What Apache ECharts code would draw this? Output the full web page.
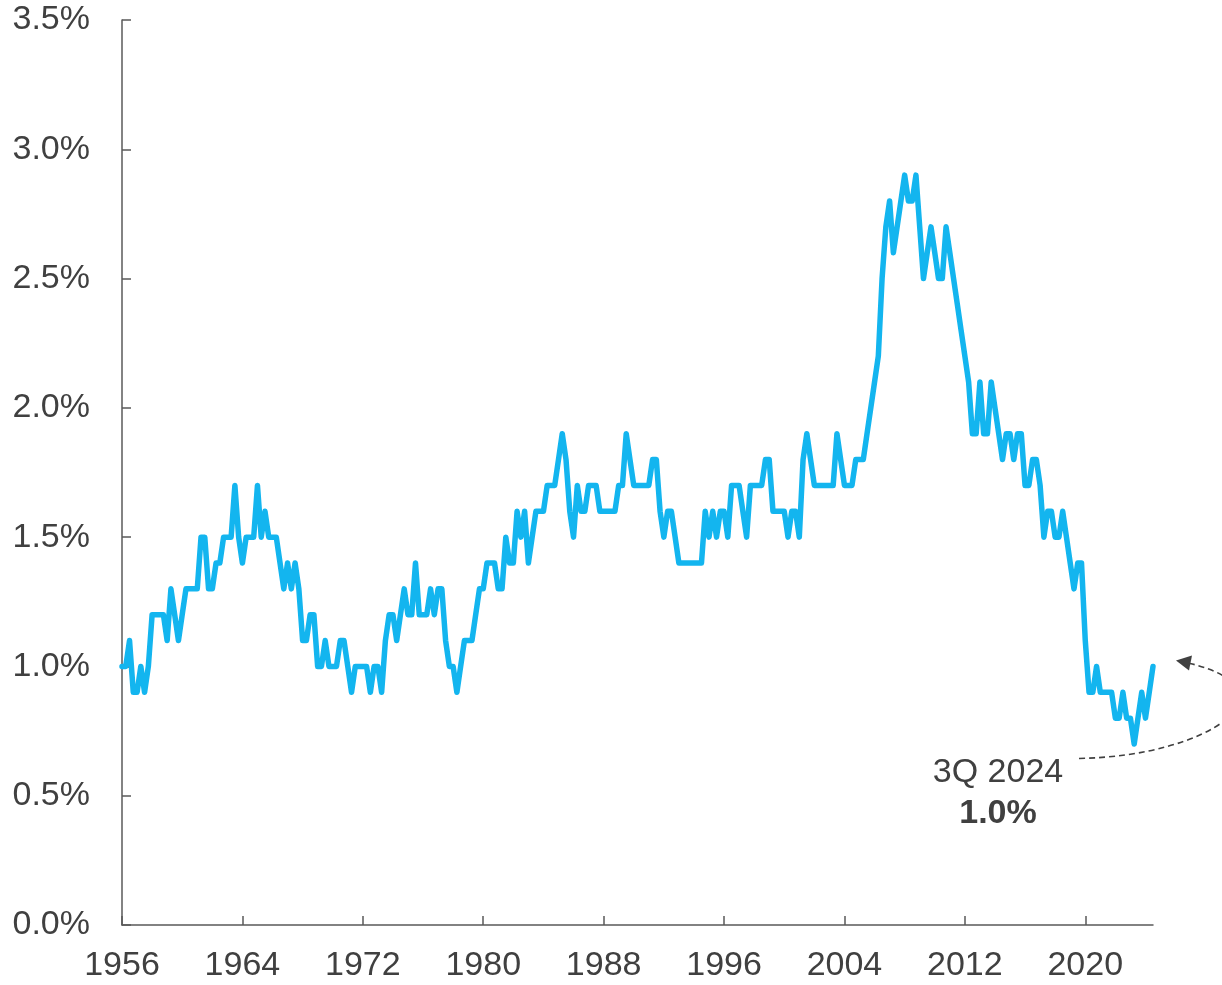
<!DOCTYPE html>
<html>
<head>
<meta charset="utf-8">
<title>Homeowner vacancy rate</title>
<script src="https://cdn.jsdelivr.net/npm/echarts@6/dist/echarts.min.js"></script>
<style>
  html, body { margin: 0; padding: 0; background: #ffffff; }
  #chart { width: 1222px; height: 985px; }
</style>
</head>
<body>
<div id="chart"></div>
<script>
// Quarterly homeowner vacancy rate (%), starting 1Q 1956, one row per year
const firstYear = 1956;
const vacancyRate = [
  1.0, 1.0, 1.1, 0.9,   // 1956
  0.9, 1.0, 0.9, 1.0,   // 1957
  1.2, 1.2, 1.2, 1.2,   // 1958
  1.1, 1.3, 1.2, 1.1,   // 1959
  1.2, 1.3, 1.3, 1.3,   // 1960
  1.3, 1.5, 1.5, 1.3,   // 1961
  1.3, 1.4, 1.4, 1.5,   // 1962
  1.5, 1.5, 1.7, 1.5,   // 1963
  1.4, 1.5, 1.5, 1.5,   // 1964
  1.7, 1.5, 1.6, 1.5,   // 1965
  1.5, 1.5, 1.4, 1.3,   // 1966
  1.4, 1.3, 1.4, 1.3,   // 1967
  1.1, 1.1, 1.2, 1.2,   // 1968
  1.0, 1.0, 1.1, 1.0,   // 1969
  1.0, 1.0, 1.1, 1.1,   // 1970
  1.0, 0.9, 1.0, 1.0,   // 1971
  1.0, 1.0, 0.9, 1.0,   // 1972
  1.0, 0.9, 1.1, 1.2,   // 1973
  1.2, 1.1, 1.2, 1.3,   // 1974
  1.2, 1.2, 1.4, 1.2,   // 1975
  1.2, 1.2, 1.3, 1.2,   // 1976
  1.3, 1.3, 1.1, 1.0,   // 1977
  1.0, 0.9, 1.0, 1.1,   // 1978
  1.1, 1.1, 1.2, 1.3,   // 1979
  1.3, 1.4, 1.4, 1.4,   // 1980
  1.3, 1.3, 1.5, 1.4,   // 1981
  1.4, 1.6, 1.5, 1.6,   // 1982
  1.4, 1.5, 1.6, 1.6,   // 1983
  1.6, 1.7, 1.7, 1.7,   // 1984
  1.8, 1.9, 1.8, 1.6,   // 1985
  1.5, 1.7, 1.6, 1.6,   // 1986
  1.7, 1.7, 1.7, 1.6,   // 1987
  1.6, 1.6, 1.6, 1.6,   // 1988
  1.7, 1.7, 1.9, 1.8,   // 1989
  1.7, 1.7, 1.7, 1.7,   // 1990
  1.7, 1.8, 1.8, 1.6,   // 1991
  1.5, 1.6, 1.6, 1.5,   // 1992
  1.4, 1.4, 1.4, 1.4,   // 1993
  1.4, 1.4, 1.4, 1.6,   // 1994
  1.5, 1.6, 1.5, 1.6,   // 1995
  1.6, 1.5, 1.7, 1.7,   // 1996
  1.7, 1.6, 1.5, 1.7,   // 1997
  1.7, 1.7, 1.7, 1.8,   // 1998
  1.8, 1.6, 1.6, 1.6,   // 1999
  1.6, 1.5, 1.6, 1.6,   // 2000
  1.5, 1.8, 1.9, 1.8,   // 2001
  1.7, 1.7, 1.7, 1.7,   // 2002
  1.7, 1.7, 1.9, 1.8,   // 2003
  1.7, 1.7, 1.7, 1.8,   // 2004
  1.8, 1.8, 1.9, 2.0,   // 2005
  2.1, 2.2, 2.5, 2.7,   // 2006
  2.8, 2.6, 2.7, 2.8,   // 2007
  2.9, 2.8, 2.8, 2.9,   // 2008
  2.7, 2.5, 2.6, 2.7,   // 2009
  2.6, 2.5, 2.5, 2.7,   // 2010
  2.6, 2.5, 2.4, 2.3,   // 2011
  2.2, 2.1, 1.9, 1.9,   // 2012
  2.1, 1.9, 1.9, 2.1,   // 2013
  2.0, 1.9, 1.8, 1.9,   // 2014
  1.9, 1.8, 1.9, 1.9,   // 2015
  1.7, 1.7, 1.8, 1.8,   // 2016
  1.7, 1.5, 1.6, 1.6,   // 2017
  1.5, 1.5, 1.6, 1.5,   // 2018
  1.4, 1.3, 1.4, 1.4,   // 2019
  1.1, 0.9, 0.9, 1.0,   // 2020
  0.9, 0.9, 0.9, 0.9,   // 2021
  0.8, 0.8, 0.9, 0.8,   // 2022
  0.8, 0.7, 0.8, 0.9,   // 2023
  0.8, 0.9, 1.0         // 2024 (through 3Q)
];

// Axis ticks
const yearTicks = [1956, 1964, 1972, 1980, 1988, 1996, 2004, 2012, 2020];
const rateTicks = [0.0, 0.5, 1.0, 1.5, 2.0, 2.5, 3.0, 3.5];

const FONT = "'Liberation Sans', Arial, sans-serif";
const TEXT = '#404040';
const AXIS = '#5a5a5a';
const LINE = '#13b5ef';
const FONT_SIZE = 34;

const points = vacancyRate.map((v, i) => [firstYear + i / 4, v]);
const lastIdx = vacancyRate.length - 1;
const lastX = points[lastIdx][0];
const lastValue = vacancyRate[lastIdx];
const lastYear = Math.floor(lastX);
const lastQuarter = Math.round((lastX - lastYear) * 4) + 1;

const chart = echarts.init(document.getElementById('chart'), null, { renderer: 'canvas' });

chart.setOption({
  animation: false,
  backgroundColor: '#ffffff',
  grid: { left: 122, right: 69, top: 20, bottom: 60, containLabel: false },
  xAxis: {
    type: 'value',
    min: firstYear,
    max: lastX,
    interval: 8,
    splitLine: { show: false },
    axisLine: { show: true, lineStyle: { color: AXIS, width: 1.5 } },
    axisTick: { show: true, inside: true, length: 9, customValues: yearTicks, lineStyle: { color: AXIS, width: 1.5 } },
    axisLabel: {
      customValues: yearTicks,
      margin: 24,
      color: TEXT,
      fontFamily: FONT,
      fontSize: FONT_SIZE,
      formatter: v => String(v)
    }
  },
  yAxis: {
    type: 'value',
    min: 0,
    max: 3.5,
    interval: 0.5,
    splitLine: { show: false },
    axisLine: { show: true, lineStyle: { color: AXIS, width: 1.5 } },
    axisTick: { show: true, inside: true, length: 9, customValues: rateTicks, lineStyle: { color: AXIS, width: 1.5 } },
    axisLabel: {
      customValues: rateTicks,
      margin: 32,
      color: TEXT,
      fontFamily: FONT,
      fontSize: FONT_SIZE,
      formatter: v => v.toFixed(1) + '%'
    }
  },
  series: [{
    type: 'line',
    data: points,
    showSymbol: false,
    symbol: 'none',
    lineStyle: { color: LINE, width: 5.5, join: 'round', cap: 'round' },
    z: 3
  }]
});

// Callout for the latest reading, placed relative to its point on the chart
const p = chart.convertToPixel({ seriesIndex: 0 }, [lastX, lastValue]);
const px = p[0], py = p[1];
const tip = [px + 23, py - 6];

chart.setOption({
  graphic: [
    {
      type: 'text',
      x: px - 155,
      y: py + 106,
      style: {
        text: lastQuarter + 'Q ' + lastYear,
        fill: TEXT,
        font: FONT_SIZE + "px 'Liberation Sans', Arial, sans-serif",
        textAlign: 'center',
        textVerticalAlign: 'middle'
      }
    },
    {
      type: 'text',
      x: px - 155,
      y: py + 147,
      style: {
        text: lastValue.toFixed(1) + '%',
        fill: TEXT,
        font: "bold " + FONT_SIZE + "px 'Liberation Sans', Arial, sans-serif",
        textAlign: 'center',
        textVerticalAlign: 'middle'
      }
    },
    {
      type: 'bezierCurve',
      shape: {
        x1: px - 74, y1: py + 92,
        cpx1: px + 57, cpy1: py + 90,
        cpx2: px + 147, cpy2: py + 24,
        x2: tip[0] + 14, y2: tip[1] + 3
      },
      style: { stroke: TEXT, lineWidth: 1.6, lineDash: [6, 4], fill: null },
      z: 10
    },
    {
      type: 'polygon',
      shape: {
        points: [
          [tip[0], tip[1]],
          [tip[0] + 16, tip[1] - 5],
          [tip[0] + 13, tip[1] + 10]
        ]
      },
      style: { fill: TEXT, stroke: null },
      z: 11
    }
  ]
});
</script>
</body>
</html>
